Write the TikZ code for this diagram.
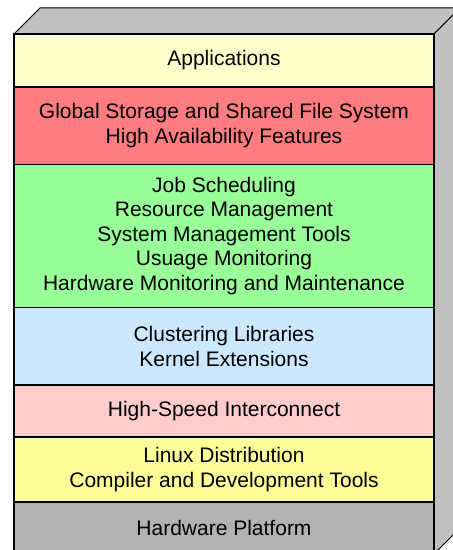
\documentclass[tikz,border=0pt]{standalone}
\usepackage{fontspec}
\setmainfont{Liberation Sans}
\usetikzlibrary{positioning}
\definecolor{appfill}{HTML}{FFFFCC}
\definecolor{storagefill}{HTML}{FF7C80}
\definecolor{mgmtfill}{HTML}{99FF99}
\definecolor{libfill}{HTML}{CCE8FF}
\definecolor{netfill}{HTML}{FFCCCC}
\definecolor{distfill}{HTML}{FFFF99}
\definecolor{hwfill}{HTML}{B2B2B2}
\definecolor{boxside}{HTML}{C0C0C0}
\tikzset{layer/.style={draw, line width=1.5pt, minimum width=420pt, inner sep=0pt,
    outer sep=0pt, align=center, font=\fontsize{21}{24.5}\selectfont},
  face/.style={fill=boxside, draw, line width=1pt, line join=miter}}

\begin{document}
\begin{tikzpicture}[x=1pt, y=1pt]
  \useasboundingbox (0, 0) rectangle (453, 550);
  \clip (0, 0) rectangle (453, 550);
  % top and side of the box
  \draw[face] (14, 516) -- (40, 542) -- (460, 542) -- (434, 516) -- cycle;
  \draw[face] (434, 516) -- (460, 542) -- (460, 22) -- (434, -4) -- cycle;
  % the stack, top to bottom
  \node[layer, fill=appfill, minimum height=53pt, anchor=north west]
    (apps) at (14, 516) {Applications};
  \node[layer, fill=storagefill, minimum height=77.5pt, below=0pt of apps]
    (storage) {Global Storage and Shared File System\\High Availability Features};
  \node[layer, fill=mgmtfill, minimum height=143pt, below=0pt of storage]
    (mgmt) {Job Scheduling\\Resource Management\\System Management Tools\\
      Usuage Monitoring\\Hardware Monitoring and Maintenance};
  \node[layer, fill=libfill, minimum height=77.5pt, below=0pt of mgmt]
    (libs) {Clustering Libraries\\Kernel Extensions};
  \node[layer, fill=netfill, minimum height=52pt, below=0pt of libs]
    (net) {High-Speed Interconnect};
  \node[layer, fill=distfill, minimum height=65pt, below=0pt of net]
    (dist) {Linux Distribution\\Compiler and Development Tools};
  \node[layer, fill=hwfill, minimum height=52pt, below=0pt of dist]
    (hw) {Hardware Platform};
\end{tikzpicture}
\end{document}
